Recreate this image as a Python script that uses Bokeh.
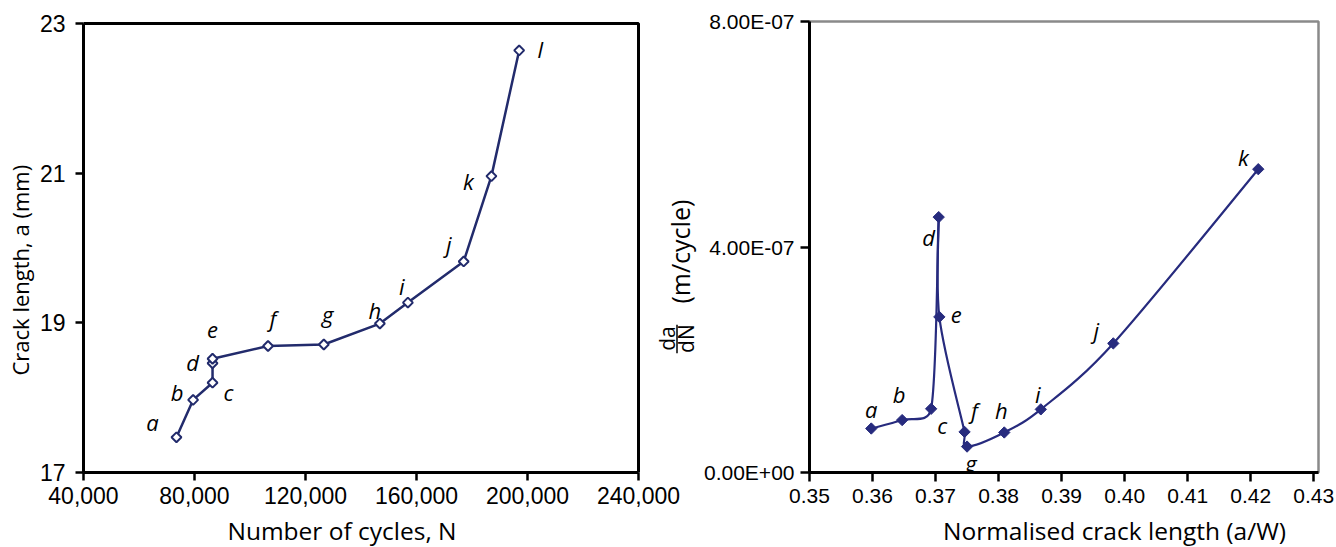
import numpy as np
from bokeh.plotting import figure
from bokeh.layouts import row, column
from bokeh.models import (Range1d, FixedTicker, NumeralTickFormatter,
                          CustomJSTickFormatter, Label, Arrow, Title,
                          BoxAnnotation)
from bokeh.core.properties import value
from bokeh.embed import file_html
from bokeh.resources import INLINE

# ---------------- data: left chart (crack length vs cycles) ----------------
cycles = [73500, 79500, 86500, 86500, 86500, 106500, 126600,
          146800, 156900, 177000, 187000, 197000]
crack_mm = [17.47, 17.97, 18.20, 18.46, 18.52, 18.69, 18.71,
            18.99, 19.27, 19.82, 20.96, 22.64]
left_letters = ["a", "b", "c", "d", "e", "f", "g", "h", "i", "j", "k", "l"]
left_xticks = [40000, 80000, 120000, 160000, 200000, 240000]
left_yticks = [17, 19, 21, 23]

# ---------------- data: right chart (da/dN vs a/W) ----------------
a_over_w = [0.3598, 0.3647, 0.3693, 0.3705, 0.3706, 0.3746, 0.3750,
            0.3809, 0.3867, 0.3982, 0.4212]
dadn = [7.8e-8, 9.3e-8, 1.13e-7, 4.53e-7, 2.76e-7, 7.2e-8, 4.6e-8,
        7.1e-8, 1.12e-7, 2.29e-7, 5.38e-7]
right_letters = ["a", "b", "c", "d", "e", "f", "g", "h", "i", "j", "k"]
right_xticks = [0.35, 0.36, 0.37, 0.38, 0.39, 0.40, 0.41, 0.42, 0.43]
right_yticks = [0.0, 4e-7, 8e-7]

# ---------------- styles / layout ----------------
NAVY_L = "#222B6C"
NAVY_R = "#272B7E"
TITLE_FONT = "Open Sans"
TICK_FONT = "Liberation Sans"
H = 547
TOTAL_W = 1336
CH = 513                        # height of the two chart canvases
STRIP_H = H - CH                # strip below that carries the x titles

# letter label offsets (pixels, screen: +y is down)
left_dx = [-24, -16, 16, -20, 0, 5, 4, -5, -6, -15, -23, 21]
left_dy = [-15, -8, 9, -1, -29, -28, -31, -14, -17, -17, 5, -1]
right_dx = [0, -3, 11, -10, 17, 10, 4, -3, -3, -17, -15]
right_dy = [-20, -26, 16, 20, -2, -22, 16, -22, -15, -13, -12]


def style_axes(p, tick_size, tick_out, standoff_x, standoff_y):
    p.grid.visible = False
    for ax in (p.xaxis, p.yaxis):
        ax.axis_line_color = "black"
        ax.axis_line_width = 3
        ax.major_tick_line_color = "black"
        ax.major_tick_line_width = 2.5
        ax.major_tick_in = 0
        ax.major_tick_out = tick_out
        ax.minor_tick_line_color = None
        ax.major_label_text_font = TICK_FONT
        ax.major_label_text_font_size = tick_size
        ax.major_label_text_color = "black"
    p.xaxis.major_label_standoff = standoff_x
    p.yaxis.major_label_standoff = standoff_y


# ======================= LEFT FIGURE =======================
LW = 700                        # canvas also hosts the right chart's y title
L_FL, L_FB = 83, 472            # frame left / bottom (px)
L_BOX_T, L_BOX_R = 16, 638      # top / right border of the drawn box (px)
L_FT = L_BOX_T - 2              # frame top a little above the box top
lx0, lx1 = left_xticks[0], left_xticks[-1]
ly0, ly1 = left_yticks[0], left_yticks[-1]
l_kx = (L_BOX_R - L_FL) / (lx1 - lx0)
l_ky = (L_FB - L_BOX_T) / (ly1 - ly0)
lxr = (lx0, lx0 + (LW - L_FL) / l_kx)
lyr = (ly0, ly1 + (L_BOX_T - L_FT) / l_ky)

p1 = figure(width=LW, height=CH, output_backend="svg", toolbar_location=None,
            x_range=Range1d(*lxr), y_range=Range1d(*lyr),
            min_border_left=L_FL, min_border_right=0,
            min_border_top=L_FT, min_border_bottom=CH - L_FB)
p1.background_fill_color = "white"
p1.border_fill_color = "white"
p1.outline_line_color = None
style_axes(p1, "23px", 8, 6, 10)
p1.xaxis.ticker = FixedTicker(ticks=left_xticks)
p1.yaxis.ticker = FixedTicker(ticks=left_yticks)
p1.xaxis.formatter = NumeralTickFormatter(format="0,0")
p1.xaxis.bounds = (lx0, lx1)
p1.yaxis.bounds = (ly0, ly1)
# the chart box (top and right borders)
p1.add_layout(BoxAnnotation(left=lx0, right=lx1, bottom=ly0, top=ly1,
                            fill_color=None, fill_alpha=0,
                            line_color="black", line_alpha=1.0, line_width=3))

p1.line(cycles, crack_mm, line_color=NAVY_L, line_width=2.5)
p1.scatter(cycles, crack_mm, marker="square", size=7, angle=np.pi / 4,
           fill_color="white", line_color=NAVY_L, line_width=2)
p1.text(cycles, crack_mm, text=left_letters, x_offset=left_dx, y_offset=left_dy,
        text_align="center", text_baseline="middle",
        text_font=value(TITLE_FONT), text_font_style="italic",
        text_font_size="22px", text_color="black")

p1.add_layout(Title(text="Crack length, a (mm)", align="left", offset=97,
                    vertical_align="top", standoff=0, text_font=TITLE_FONT,
                    text_font_size="22px", text_font_style="normal",
                    text_color="black"), "left")


def l_data(px, py):
    return lx0 + (px - L_FL) / l_kx, ly1 - (py - L_BOX_T) / l_ky


# y-axis title of the right chart ("da/dN (m/cycle)"), drawn in this canvas
def rot_label(px, py, text, size):
    x, y = l_data(px, py)
    return Label(x=x, y=y, text=text, angle=np.pi / 2,
                 text_align="center", text_baseline="middle",
                 text_font=TITLE_FONT, text_font_size=size, text_color="black")


p1.add_layout(rot_label(679.5, 247.7, "(m/cycle)", "25px"))
p1.add_layout(rot_label(666.5, 336, "da", "21px"))
p1.add_layout(rot_label(685.5, 336, "dN", "21px"))
xa, ya = l_data(676.5, 322)
xb, yb = l_data(676.5, 351)
p1.add_layout(Arrow(x_start=xa, y_start=ya, x_end=xb, y_end=yb,
                    start=None, end=None, line_color="black", line_width=1.5))

# ======================= RIGHT FIGURE =======================
RW = TOTAL_W - LW
R_FL, R_FR, R_FT, R_FB = 806 - LW, 1318 - LW, 21, 473
R_PX_PER_UNIT = 6340.0
rxr = (right_xticks[0], right_xticks[0] + (R_FR - R_FL) / R_PX_PER_UNIT)
ryr = (right_yticks[0], right_yticks[-1])
p2 = figure(width=RW, height=CH, output_backend="svg", toolbar_location=None,
            x_range=Range1d(*rxr), y_range=Range1d(*ryr),
            min_border_left=R_FL, min_border_right=RW - R_FR,
            min_border_top=R_FT, min_border_bottom=CH - R_FB)
p2.background_fill_color = "white"
p2.border_fill_color = "white"
p2.outline_line_color = "#8a8a8a"
p2.outline_line_width = 2.5
style_axes(p2, "21px", 9, 7, 6)
p2.xaxis.ticker = FixedTicker(ticks=right_xticks)
p2.yaxis.ticker = FixedTicker(ticks=right_yticks)
p2.xaxis.formatter = NumeralTickFormatter(format="0.00")
p2.yaxis.formatter = CustomJSTickFormatter(code="""
    const s = tick.toExponential(2).toUpperCase();
    const parts = s.split("E");
    let e = parseInt(parts[1]);
    const sign = e < 0 ? "-" : "+";
    e = Math.abs(e);
    return parts[0] + "E" + sign + (e < 10 ? "0" + e : String(e));
""")

# smoothed line (Catmull-Rom -> cubic Bezier, computed in pixel-proportional space)
kx = (R_FR - R_FL) / (rxr[1] - rxr[0])
ky = (R_FB - R_FT) / (ryr[1] - ryr[0])
P = np.column_stack([np.array(a_over_w) * kx, np.array(dadn) * ky])
Pm = np.vstack([P[0], P, P[-1]])
bx0, by0, bx1, by1, c0x, c0y, c1x, c1y = ([] for _ in range(8))
for i in range(len(P) - 1):
    q0, q1, q2, q3 = Pm[i], Pm[i + 1], Pm[i + 2], Pm[i + 3]
    seg = np.linalg.norm(q2 - q1)
    t1v = (q2 - q0) / 6.0
    t2v = (q3 - q1) / 6.0
    lim = 0.5 * seg
    if np.linalg.norm(t1v) > lim:
        t1v = t1v / np.linalg.norm(t1v) * lim
    if np.linalg.norm(t2v) > lim:
        t2v = t2v / np.linalg.norm(t2v) * lim
    c1 = q1 + t1v
    c2 = q2 - t2v
    bx0.append(q1[0] / kx); by0.append(q1[1] / ky)
    bx1.append(q2[0] / kx); by1.append(q2[1] / ky)
    c0x.append(c1[0] / kx); c0y.append(c1[1] / ky)
    c1x.append(c2[0] / kx); c1y.append(c2[1] / ky)
p2.bezier(x0=bx0, y0=by0, x1=bx1, y1=by1, cx0=c0x, cy0=c0y, cx1=c1x, cy1=c1y,
          line_color=NAVY_R, line_width=2.2)
p2.scatter(a_over_w, dadn, marker="square", size=8, angle=np.pi / 4,
           fill_color=NAVY_R, line_color=NAVY_R, line_width=1)
p2.text(a_over_w, dadn, text=right_letters, x_offset=right_dx, y_offset=right_dy,
        text_align="center", text_baseline="middle",
        text_font=value(TITLE_FONT), text_font_style="italic",
        text_font_size="22px", text_color="black")

# ======================= X-TITLE STRIP =======================
strip = figure(width=TOTAL_W, height=STRIP_H, output_backend="svg",
               toolbar_location=None, x_axis_type=None, y_axis_type=None,
               x_range=Range1d(0, TOTAL_W), y_range=Range1d(0, STRIP_H),
               min_border_left=0, min_border_right=0,
               min_border_top=0, min_border_bottom=0)
strip.outline_line_color = None
strip.grid.visible = False
strip.background_fill_color = "white"
strip.border_fill_color = "white"


def x_title(text, center_px, baseline_px, size_px):
    # "middle" anchor sits ~0.388 em above the alphabetic baseline
    mid = baseline_px - 0.388 * size_px
    return Label(x=center_px, y=H - mid, x_units="screen", y_units="screen",
                 text=text, text_align="center", text_baseline="middle",
                 text_font=TITLE_FONT, text_font_size=f"{size_px}px",
                 text_color="black")


strip.add_layout(x_title("Number of cycles, N", 341.5, 539.5, 24.5))
strip.add_layout(x_title("Normalised crack length (a/W)", 1114, 539.5, 24.5))

layout = column(row(p1, p2), strip)
open("out.html", "w").write(file_html(layout, INLINE))
